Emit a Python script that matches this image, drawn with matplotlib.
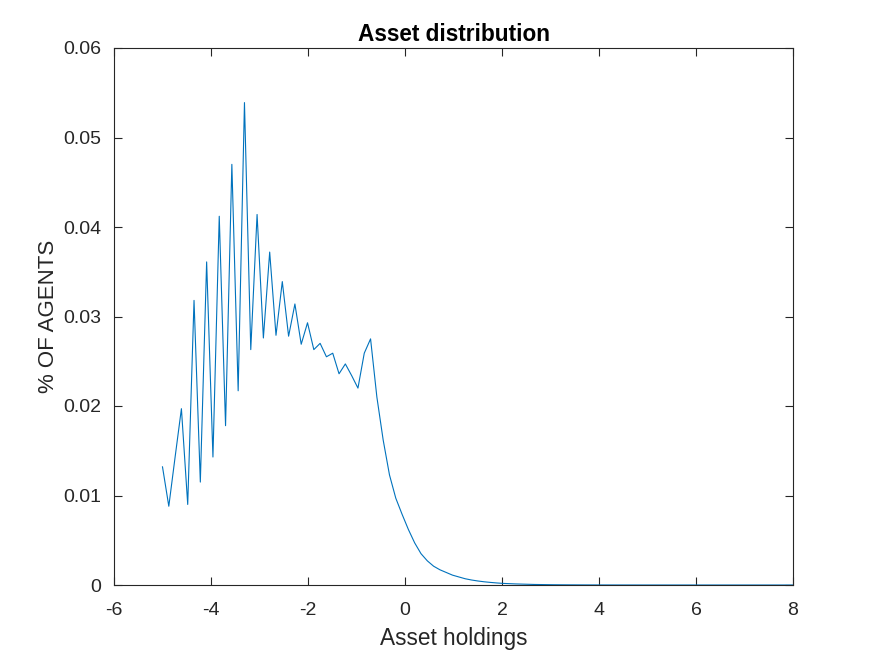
import numpy as np
import matplotlib
matplotlib.use("Agg")
import matplotlib.pyplot as plt

x_start = -5.0
x_step = 0.13
share = [
    0.0132, 0.0088, 0.0143, 0.0197, 0.0090, 0.0318, 0.0115, 0.0361, 0.0143, 0.0412,
    0.0178, 0.0470, 0.0217, 0.0539, 0.0263, 0.0414, 0.0276, 0.0372, 0.0279, 0.0339,
    0.0278, 0.0314, 0.0269, 0.0293, 0.0263, 0.0270, 0.0255, 0.0259, 0.0236, 0.0247,
    0.0234, 0.0220, 0.0259, 0.0275, 0.0210, 0.0162, 0.0123, 0.0097, 0.0079, 0.0062,
    0.0047, 0.0035, 0.0027, 0.0021, 0.0017, 0.0014, 0.0011, 0.0009, 0.0007, 0.00056,
    0.00045, 0.00036, 0.00029, 0.00023, 0.00018, 0.00015, 0.00012, 0.00010, 0.00008, 0.00006,
    0.00005, 0.00004, 0.00003, 0.000025, 0.00002, 0.000016, 0.000013, 0.00001, 0.000008, 0.000006,
    0.000005, 0.000004, 0.000003, 0.0000025, 0.000002, 0.0000016, 0.0000013, 0.000001, 0.0000008, 0.0000006,
    0.0000005, 0.0000004, 0.0000003, 0.0000002, 0.0000002, 0.0000001, 0.0000001, 0.0000001, 0.0, 0.0,
    0.0, 0.0, 0.0, 0.0, 0.0, 0.0, 0.0, 0.0, 0.0, 0.0, 0.0,
]
assets = [x_start + x_step * i for i in range(len(share))]

xticks = [-6, -4, -2, 0, 2, 4, 6, 8]
yticks = [0, 0.01, 0.02, 0.03, 0.04, 0.05, 0.06]
ytick_labels = ["0", "0.01", "0.02", "0.03", "0.04", "0.05", "0.06"]

plt.rcParams['font.family'] = ['Liberation Sans', 'DejaVu Sans']
fig = plt.figure(figsize=(8.75, 6.56), dpi=100)
ax = fig.add_axes([114/875, 71/656, 679/875, 537/656])
ax.plot(assets, share, color='#0072BD', linewidth=0.8)
ax.set_xlim(-6, 8)
ax.set_ylim(0, 0.06)
ax.set_xticks(xticks)
ax.set_xticklabels([str(t) for t in xticks])
ax.set_yticks(yticks)
ax.set_yticklabels(ytick_labels)
c = '#262626'
for s in ax.spines.values():
    s.set_color(c)
    s.set_linewidth(0.8)
ax.tick_params(direction='in', length=6, width=0.8, colors=c, labelsize=14,
               top=True, right=True)
ax.tick_params(axis='x', pad=12)
ax.tick_params(axis='y', pad=9)
ax.set_xlabel('Asset holdings', fontsize=16.3, color=c, labelpad=6)
ax.set_ylabel('% OF AGENTS', fontsize=16, color=c, labelpad=3)
ax.set_title('Asset distribution', fontsize=16.3, fontweight='bold', color='black', pad=5)
fig.savefig('out.png', dpi=100, facecolor='white')
